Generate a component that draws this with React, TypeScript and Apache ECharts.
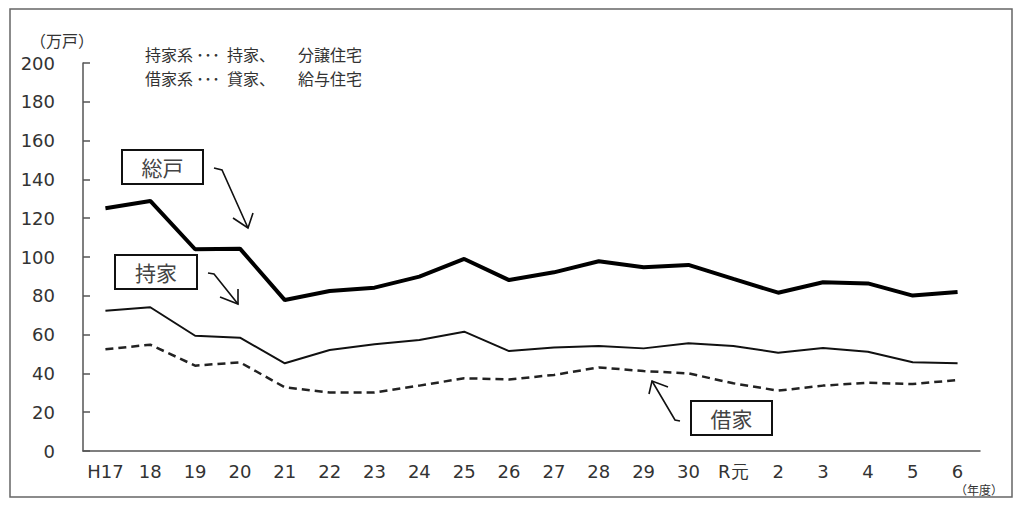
import React, { useEffect, useRef } from "react";
import * as echarts from "echarts";

const categories = ["H17", "18", "19", "20", "21", "22", "23", "24", "25", "26", "27", "28", "29", "30", "R元", "2", "3", "4", "5", "6"];
const totalValues = [125.1, 128.9, 104, 104.3, 77.8, 82.5, 84.2, 89.9, 99, 88.1, 92.1, 97.8, 94.7, 95.9, 88.7, 81.6, 87, 86.4, 80.1, 82];
const ownedValues = [72.3, 74.1, 59.4, 58.4, 45.2, 52.1, 55, 57.2, 61.5, 51.5, 53.4, 54.1, 52.9, 55.5, 54.1, 50.7, 53.1, 51.2, 45.7, 45.2];
const rentedValues = [52.4, 54.8, 44, 45.7, 32.8, 30.1, 30.1, 33.7, 37.5, 36.9, 39.2, 43.1, 41.2, 40, 34.9, 31.1, 33.7, 35.2, 34.5, 36.6];
const seriesNames = ["総戸", "持家", "借家"];
const noteLine1 = ["持家系", "･･･", "持家、", "分譲住宅"];
const noteLine2 = ["借家系", "･･･", "貸家、", "給与住宅"];
const yUnit = "（万戸）";
const xUnit = "（年度）";

const NUM_FONT = "'DejaVu Sans', 'Liberation Sans', sans-serif";
const JP_FONT = "'Noto Sans CJK JP', sans-serif";

function box(x: number, y: number, w: number, h: number, label: string) {
  return [
    {
      type: "rect",
      shape: { x, y, width: w, height: h },
      style: { fill: "#fff", stroke: "#111", lineWidth: 2 },
      z: 10,
    },
    {
      type: "text",
      x: x + w / 2,
      y: y + h / 2,
      style: {
        text: label,
        font: `21px ${JP_FONT}`,
        fill: "#444",
        textAlign: "center",
        textVerticalAlign: "middle",
      },
      z: 11,
    },
  ];
}

function arrow(points: number[][], wings: number[][]) {
  return [
    {
      type: "polyline",
      shape: { points },
      style: { stroke: "#111", lineWidth: 1.6, fill: null },
      z: 10,
    },
    {
      type: "polyline",
      shape: { points: wings },
      style: { stroke: "#111", lineWidth: 1.6, fill: null },
      z: 10,
    },
  ];
}

function noteLine(parts: string[], y: number) {
  const xs = [145, 196, 227, 298];
  return parts.map((t, i) => ({
    type: "text",
    x: xs[i],
    y,
    style: {
      text: t,
      font: `16px ${JP_FONT}`,
      fill: "#333",
      textAlign: "left",
      textVerticalAlign: "middle",
    },
  }));
}

export default function App() {
  const ref = useRef<HTMLDivElement>(null);

  useEffect(() => {
    document.body.style.margin = "0";
    if (!ref.current) return;
    const chart = echarts.init(ref.current, null, { renderer: "svg" });
    const axisColor = "#555";
    chart.setOption({
      animation: false,
      backgroundColor: "#fff",
      grid: { left: 83, right: 44, top: 63, bottom: 57 },
      xAxis: {
        type: "category",
        data: categories,
        boundaryGap: true,
        axisLine: { lineStyle: { color: axisColor, width: 1.5 } },
        axisTick: { inside: true, length: 6, lineStyle: { color: axisColor, width: 1.5 } },
        axisLabel: {
          interval: 0,
          margin: 11,
          color: "#333",
          fontSize: 18,
          fontFamily: NUM_FONT,
        },
        splitLine: { show: false },
      },
      yAxis: {
        type: "value",
        min: 0,
        max: 200,
        interval: 20,
        axisLine: { show: true, lineStyle: { color: axisColor, width: 1.5 } },
        axisTick: { show: true, inside: true, length: 7, lineStyle: { color: axisColor, width: 1.5 } },
        axisLabel: {
          margin: 28,
          color: "#333",
          fontSize: 18,
          fontFamily: NUM_FONT,
        },
        splitLine: { show: false },
      },
      series: [
        {
          name: seriesNames[0],
          type: "line",
          data: totalValues,
          symbol: "none",
          lineStyle: { color: "#000", width: 4 },
          z: 3,
        },
        {
          name: seriesNames[1],
          type: "line",
          data: ownedValues,
          symbol: "none",
          lineStyle: { color: "#111", width: 2 },
          z: 3,
        },
        {
          name: seriesNames[2],
          type: "line",
          data: rentedValues,
          symbol: "none",
          lineStyle: { color: "#222", width: 2.5, type: [8, 5] },
          z: 3,
        },
      ],
      graphic: [
        {
          type: "rect",
          shape: { x: 10, y: 9, width: 1002, height: 488 },
          style: { fill: null, stroke: "#666", lineWidth: 1.5 },
          silent: true,
        },
        {
          type: "text",
          x: 62,
          y: 40,
          style: {
            text: yUnit,
            font: `16px ${JP_FONT}`,
            fill: "#333",
            textAlign: "center",
            textVerticalAlign: "middle",
          },
        },
        {
          type: "text",
          x: 979,
          y: 489,
          style: {
            text: xUnit,
            font: `12px ${JP_FONT}`,
            fill: "#333",
            textAlign: "center",
            textVerticalAlign: "middle",
          },
        },
        ...noteLine(noteLine1, 54),
        ...noteLine(noteLine2, 77.5),
        ...box(122, 150, 81, 34, seriesNames[0]),
        ...arrow([[214, 168], [222, 170], [248, 228]], [[233, 218], [248, 228], [253, 213]]),
        ...box(115, 255, 82, 34, seriesNames[1]),
        ...arrow([[208, 273], [214, 274], [238, 304]], [[220, 297], [238, 304], [238, 289]]),
        ...box(691, 401, 81, 34, seriesNames[2]),
        ...arrow([[680, 421], [675, 420], [652, 381]], [[649, 394], [652, 381], [668, 387]]),
      ],
    });
    return () => {
      chart.dispose();
    };
  }, []);

  return <div ref={ref} style={{ width: 1024, height: 508 }} />;
}
